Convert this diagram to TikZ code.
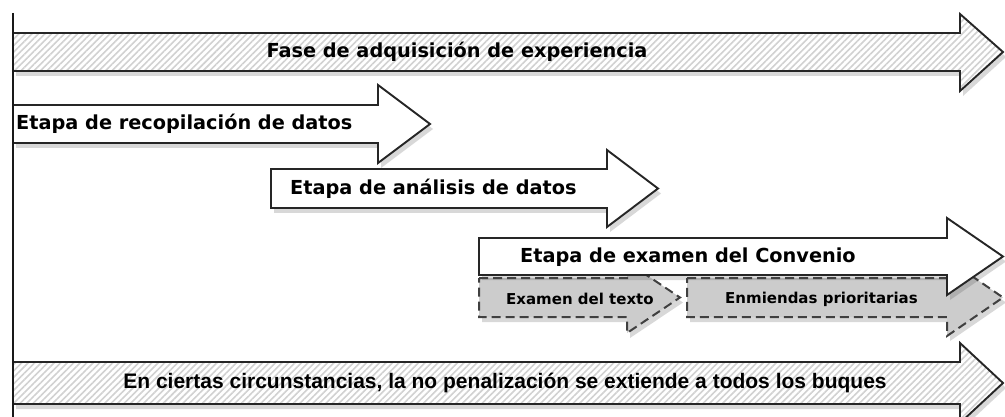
\documentclass[tikz,border=0pt]{standalone}
\usepackage{fontspec}
\setmainfont{DejaVu Sans}
\newfontfamily\arialb{Liberation Sans}
\usetikzlibrary{patterns.meta,shadows}
\begin{document}
\begin{tikzpicture}[x=1pt,y=-1pt,
  shad/.style={drop shadow={opacity=0.22,shadow xshift=3pt,shadow yshift=-5pt,fill=black!70}},
  hatch/.style={shad, preaction={fill=white}, pattern={Lines[angle=45,distance=4.6pt,line width=1.6pt]}, pattern color=black!18, draw=black!85, line width=1.9pt},
  plainarrow/.style={shad, fill=white, draw=black!85, line width=1.9pt},
  dasharrow/.style={shad, fill=black!20, draw=black!75, line width=2pt, dash pattern=on 9pt off 5pt},
  lbl/.style={font=\bfseries\fontsize{19.3}{22}\selectfont, inner sep=0pt, text=black},
  sublbl/.style={font=\bfseries\fontsize{15}{18}\selectfont, inner sep=0pt, text=black},
  arlbl/.style={font=\arialb\bfseries\fontsize{21}{24}\selectfont, inner sep=0pt, text=black}]
\useasboundingbox (0,0) rectangle (1005,417);
% Fase de adquisicion
\path[hatch] (13,33) -- (960,33) -- (960,14) -- (1003,52) -- (960,91) -- (960,71) -- (13,71) -- cycle;
% Recopilacion
\path[plainarrow] (13,105) -- (378,105) -- (378,85) -- (430,124) -- (378,163) -- (378,143) -- (13,143) -- cycle;
% Analisis
\path[plainarrow] (271,169) -- (607,169) -- (607,150) -- (658,188.5) -- (607,227) -- (607,208) -- (271,208) -- cycle;
% dashed sub-arrows
\path[dasharrow] (479,278) -- (627,278) -- (627,262) -- (680,297.5) -- (627,333) -- (627,317) -- (479,317) -- cycle;
\path[dasharrow] (687,278) -- (947,278) -- (947,259) -- (1003,297.5) -- (947,336) -- (947,317) -- (687,317) -- cycle;
% Convenio
\path[plainarrow] (479,238) -- (947,238) -- (947,218) -- (1003,256.5) -- (947,295) -- (947,275) -- (479,275) -- cycle;
% En ciertas circunstancias
\path[hatch] (13,362) -- (960,362) -- (960,343) -- (1003,383) -- (960,423) -- (960,404) -- (13,404) -- cycle;
% vertical axis
\coordinate (axtop) at (13,13);
\coordinate (axbot) at (13,417);
\draw[line width=2pt, black!90] (axtop) -- (axbot);
% labels
\node[lbl] (t1) at (457,52) {Fase de adquisición de experiencia};
\node[lbl, anchor=west] (t2) at (16,124) {Etapa de recopilación de datos};
\node[lbl, anchor=west] (t3) at (290,189) {Etapa de análisis de datos};
\node[lbl, anchor=west] (t4) at (520,257) {Etapa de examen del Convenio};
\node[sublbl, anchor=west] (t5) at (506,299) {Examen del texto};
\node[sublbl, anchor=west] (t6) at (725,299) {Enmiendas prioritarias};
\node[arlbl] (t7) at (505,383) {En ciertas circunstancias, la no penalización se extiende a todos los buques};
\end{tikzpicture}
\end{document}
